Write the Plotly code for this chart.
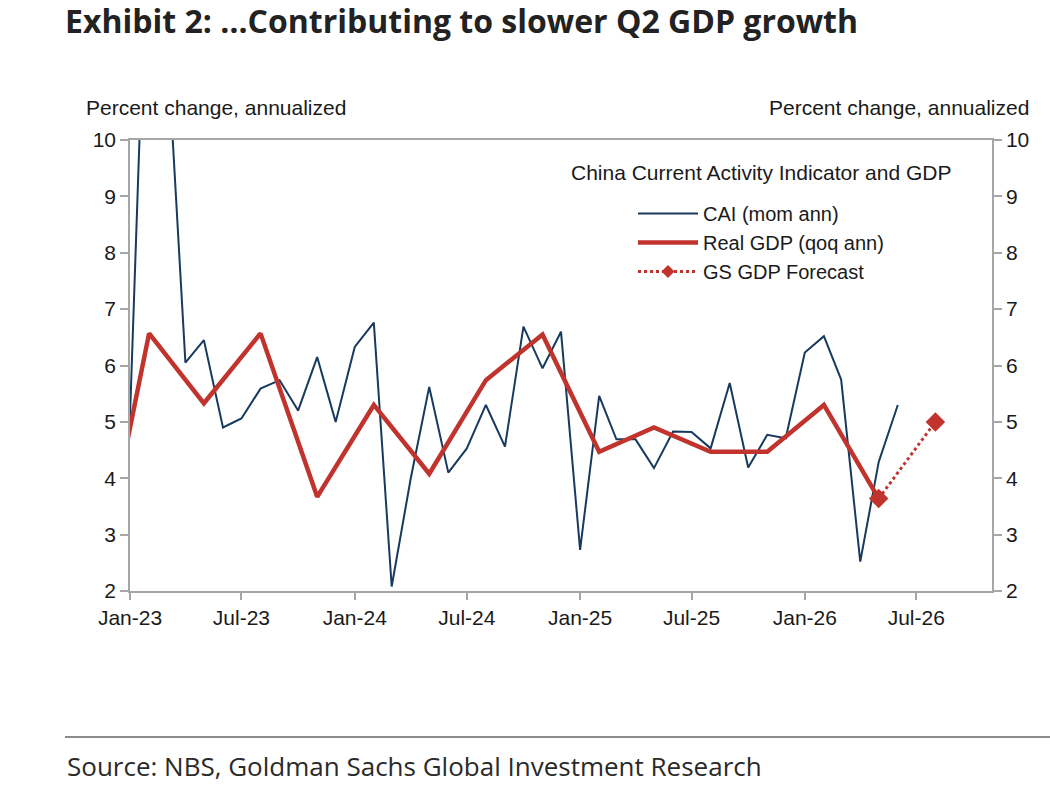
import plotly.graph_objects as go

# ---------------- data ----------------
cai_dates = [
    "2023-01-01", "2023-02-01", "2023-03-01", "2023-04-01", "2023-05-01", "2023-06-01",
    "2023-07-01", "2023-08-01", "2023-09-01", "2023-10-01", "2023-11-01", "2023-12-01",
    "2024-01-01", "2024-02-01", "2024-03-01", "2024-04-01", "2024-05-01", "2024-06-01",
    "2024-07-01", "2024-08-01", "2024-09-01", "2024-10-01", "2024-11-01", "2024-12-01",
    "2025-01-01", "2025-02-01", "2025-03-01", "2025-04-01", "2025-05-01", "2025-06-01",
    "2025-07-01", "2025-08-01", "2025-09-01", "2025-10-01", "2025-11-01", "2025-12-01",
    "2026-01-01", "2026-02-01", "2026-03-01", "2026-04-01", "2026-05-01", "2026-06-01",
]
cai_values = [
    5.1, 15.0, 12.0, 6.05, 6.45, 4.9,
    5.06, 5.59, 5.74, 5.2, 6.15, 5.0,
    6.33, 6.76, 2.08, 4.0, 5.62, 4.1,
    4.53, 5.30, 4.56, 6.69, 5.95, 6.6,
    2.73, 5.46, 4.69, 4.69, 4.18, 4.83,
    4.82, 4.53, 5.69, 4.19, 4.77, 4.71,
    6.23, 6.52, 5.75, 2.52, 4.29, 5.30,
]

gdp_dates = [
    "2022-11-01", "2023-02-01", "2023-05-01", "2023-08-01", "2023-11-01",
    "2024-02-01", "2024-05-01", "2024-08-01", "2024-11-01", "2025-02-01",
    "2025-05-01", "2025-08-01", "2025-11-01", "2026-02-01", "2026-05-01",
]
gdp_values = [
    1.6, 6.57, 5.33, 6.57, 3.67,
    5.30, 4.08, 5.74, 6.55, 4.47,
    4.90, 4.47, 4.47, 5.30, 3.64,
]

fcst_dates = ["2026-05-01", "2026-08-01"]
fcst_values = [3.64, 5.0]

tick_vals = ["2023-01-01", "2023-07-01", "2024-01-01", "2024-07-01",
             "2025-01-01", "2025-07-01", "2026-01-01", "2026-07-01"]
tick_text = ["Jan-23", "Jul-23", "Jan-24", "Jul-24", "Jan-25", "Jul-25", "Jan-26", "Jul-26"]

# ---------------- styling ----------------
NAVY = "#173a5e"
RED = "#c1332d"
AXIS = "#a6a6a6"
TXT = "#1a1a1a"
FONT = "Liberation Sans, Arial, sans-serif"
FS = 21

W, H = 1050, 788
L, R, T, B = 130, 58, 140, 197
PW, PH = W - L - R, H - T - B


def px(xp):
    return (xp - L) / PW


def py(yp):
    return (H - B - yp) / PH


fig = go.Figure()
fig.add_trace(go.Scatter(x=cai_dates, y=cai_values, mode="lines", name="CAI (mom ann)",
                         line=dict(color=NAVY, width=2), hoverinfo="skip"))
fig.add_trace(go.Scatter(x=gdp_dates, y=gdp_values, mode="lines", name="Real GDP (qoq ann)",
                         line=dict(color=RED, width=4.5), hoverinfo="skip"))
fig.add_trace(go.Scatter(x=fcst_dates, y=fcst_values, mode="lines+markers", name="GS GDP Forecast",
                         line=dict(color=RED, width=3, dash="dot"),
                         marker=dict(symbol="diamond", size=15, color=RED),
                         showlegend=False, hoverinfo="skip"))
# legend-only entry for the forecast (smaller key marker, as in the reference legend)
fig.add_trace(go.Scatter(x=[None], y=[None], mode="lines+markers", name="GS GDP Forecast",
                         line=dict(color=RED, width=3, dash="dot"),
                         marker=dict(symbol="diamond", size=10, color=RED),
                         hoverinfo="skip"))
fig.add_trace(go.Scatter(x=[None], y=[None], yaxis="y2", showlegend=False, hoverinfo="skip"))

yax = dict(range=[2, 10], dtick=1, showline=True, linecolor=AXIS, linewidth=1.5,
           ticks="outside", ticklen=8, tickcolor=AXIS, tickwidth=1.5, showgrid=False,
           zeroline=False, tickfont=dict(family=FONT, size=FS, color=TXT), fixedrange=True)

fig.update_layout(
    width=W, height=H,
    margin=dict(l=L, r=R, t=T, b=B),
    paper_bgcolor="white", plot_bgcolor="white",
    showlegend=True,
    legend=dict(x=px(633), y=py(194), xanchor="left", yanchor="top",
                font=dict(family=FONT, size=20, color=TXT),
                itemwidth=60,
                bgcolor="rgba(0,0,0,0)", tracegroupgap=0),
    title=dict(text="<b>Exhibit 2: …Contributing to slower Q2 GDP growth</b>",
               x=65 / W, xref="container", xanchor="left",
               y=1 - 21.5 / H, yref="container", yanchor="middle",
               font=dict(family="Open Sans, sans-serif", size=32, color="#222222")),
    xaxis=dict(type="date", range=["2023-01-01", "2026-11-01"],
               tickvals=tick_vals, ticktext=tick_text,
               showline=True, mirror=True, linecolor=AXIS, linewidth=1.5,
               ticks="outside", ticklen=7, tickcolor=AXIS, tickwidth=1.5,
               showgrid=False, zeroline=False,
               tickfont=dict(family=FONT, size=FS, color=TXT), fixedrange=True),
    yaxis=yax,
    yaxis2=dict(yax, overlaying="y", side="right", matches="y"),
    annotations=[
        dict(text="Percent change, annualized", xref="paper", yref="paper",
             x=px(84), y=py(108), xanchor="left", yanchor="middle", showarrow=False,
             font=dict(family=FONT, size=FS, color=TXT)),
        dict(text="Percent change, annualized", xref="paper", yref="paper",
             x=px(1031), y=py(108), xanchor="right", yanchor="middle", showarrow=False,
             font=dict(family=FONT, size=FS, color=TXT)),
        dict(text="China Current Activity Indicator and GDP", xref="paper", yref="paper",
             x=px(761), y=py(172), xanchor="center", yanchor="middle", showarrow=False,
             font=dict(family=FONT, size=FS, color=TXT)),
        dict(text="Source: NBS, Goldman Sachs Global Investment Research", xref="paper", yref="paper",
             x=px(65), y=py(766), xanchor="left", yanchor="middle", showarrow=False,
             font=dict(family="Open Sans, sans-serif", size=26, color="#2a2a2a")),
    ],
    shapes=[
        dict(type="line", xref="paper", yref="paper", x0=px(65), x1=px(1050),
             y0=py(737), y1=py(737), line=dict(color="#8c8c8c", width=2)),
    ],
)

fig.write_html("out.html")
